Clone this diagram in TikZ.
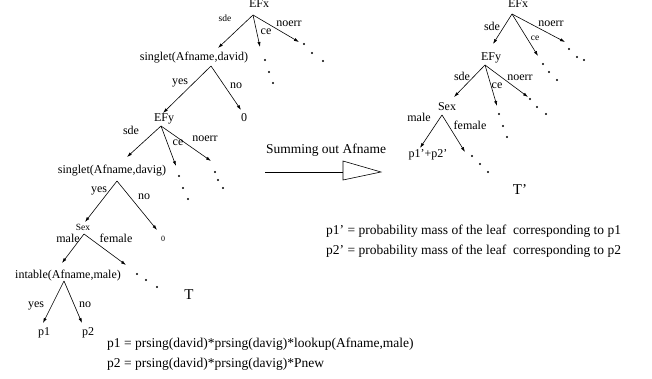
\documentclass[tikz,border=0pt]{standalone}
\usepackage{fontspec}
\setmainfont{Liberation Serif}
\usetikzlibrary{arrows.meta}
\begin{document}
\begin{tikzpicture}[x=1pt,y=-1pt,
  lbl/.style={inner sep=0pt,anchor=base,font=\fontsize{12}{14}\selectfont},
  sml/.style={inner sep=0pt,anchor=base,font=\fontsize{9.5}{11}\selectfont},
  tiny/.style={inner sep=0pt,anchor=base,font=\fontsize{8}{9}\selectfont},
  big/.style={inner sep=0pt,anchor=base,font=\fontsize{15}{17}\selectfont},
  eq/.style={inner sep=0pt,anchor=base west,font=\fontsize{13.5}{16}\selectfont},
  edge/.style={line width=0.6pt,-{Latex[length=5pt,width=3.2pt]}},
  dotn/.style={circle,fill=black,inner sep=0pt,minimum size=2.4pt}]
\useasboundingbox (0,0) rectangle (652,379);

% ---------------- left tree T ----------------
\node[lbl] (lEFx) at (259,8) {EFx};
\coordinate (la1) at (253,15);
\coordinate (la1s) at (218,48);
\coordinate (la1c) at (260,47);
\coordinate (la1n) at (299,42);
\draw[edge] (la1) -- (la1s);
\draw[edge] (la1) -- (la1c);
\draw[edge] (la1) -- (la1n);
\node[sml] (llsde1) at (225,22) {sde};
\node[lbl] (llce1) at (266,35) {ce};
\node[lbl] (llno1) at (289,27) {noerr};
\node[dotn] (ld1) at (265,60) {}; \node[dotn] (ld2) at (269,72) {}; \node[dotn] (ld3) at (273,83) {};
\node[dotn] (ld4) at (304,44) {}; \node[dotn] (ld5) at (312,53) {}; \node[dotn] (ld6) at (323,61) {};

\node[lbl] (ls1) at (194,61) {singlet(Afname,david)};
\coordinate (la2) at (211,66);
\coordinate (la2y) at (163,113);
\coordinate (la2n) at (241,110);
\draw[edge] (la2) -- (la2y);
\draw[edge] (la2) -- (la2n);
\node[lbl] (llyes1) at (180,85) {yes};
\node[lbl] (llno2) at (236,89) {no};

\node[lbl] (lEFy) at (164,122) {EFy};
\node[lbl] (lz1) at (244,122) {0};
\coordinate (la3) at (161,126);
\coordinate (la3s) at (127,157);
\coordinate (la3c) at (176,166);
\coordinate (la3n) at (211,161);
\draw[edge] (la3) -- (la3s);
\draw[edge] (la3) -- (la3c);
\draw[edge] (la3) -- (la3n);
\node[lbl] (llsde2) at (131,135) {sde};
\node[lbl] (llce2) at (178,146) {ce};
\node[lbl] (llno3) at (205,142) {noerr};
\node[dotn] (ld7) at (179,176) {}; \node[dotn] (ld8) at (183,188) {}; \node[dotn] (ld9) at (188,199) {};
\node[dotn] (ld10) at (215,172) {}; \node[dotn] (ld11) at (218,180) {}; \node[dotn] (ld12) at (223,188) {};

\node[lbl] (ls2) at (112,174) {singlet(Afname,davig)};
\coordinate (la4) at (117,181);
\coordinate (la4y) at (85,222);
\coordinate (la4n) at (157,230);
\draw[edge] (la4) -- (la4y);
\draw[edge] (la4) -- (la4n);
\node[lbl] (llyes2) at (99,193) {yes};
\node[lbl] (llno4) at (144,200) {no};

\node[sml] (lSex) at (83,230) {Sex};
\node[tiny] (lz2) at (163,241) {0};
\coordinate (la5) at (84,234);
\coordinate (la5m) at (62,263);
\coordinate (la5f) at (126,265);
\draw[edge] (la5) -- (la5m);
\draw[edge] (la5) -- (la5f);
\node[lbl] (llmale) at (68,242) {male};
\node[lbl] (llfem) at (116,242) {female};
\node[dotn] (ld13) at (137,274) {}; \node[dotn] (ld14) at (146,280) {}; \node[dotn] (ld15) at (157,287) {};

\node[lbl] (lint) at (68,278) {intable(Afname,male)};
\coordinate (la6) at (64,281);
\coordinate (la6y) at (43,323);
\coordinate (la6n) at (82,323);
\draw[edge] (la6) -- (la6y);
\draw[edge] (la6) -- (la6n);
\node[lbl] (llyes3) at (36,307) {yes};
\node[lbl] (llno5) at (85,307) {no};
\node[lbl] (lp1) at (44,335) {p1};
\node[lbl] (lp2) at (88,335) {p2};

\node[big] (lT) at (189,299) {T};
\node[eq] (eq1) at (107,347.5) {p1 = prsing(david)*prsing(davig)*lookup(Afname,male)};
\node[eq] (eq2) at (107,367.5) {p2 = prsing(david)*prsing(davig)*Pnew};

% ---------------- transformation arrow ----------------
\node[inner sep=0pt,anchor=base,font=\fontsize{13.5}{16}\selectfont] (sum) at (326,153.5) {Summing out Afname};
\coordinate (sa) at (265,172);
\coordinate (sb) at (343,172);
\coordinate (st) at (343,161);
\coordinate (sbt) at (343,180);
\coordinate (sp) at (381,172);
\draw[line width=0.6pt] (sa) -- (sb);
\draw[line width=0.6pt,line join=miter] (st) -- (sp) -- (sbt) -- cycle;

% ---------------- right tree T' ----------------
\node[lbl] (rEFx) at (518,8) {EFx};
\coordinate (ra1) at (512,14);
\coordinate (ra1s) at (493,44);
\coordinate (ra1c) at (538,56);
\coordinate (ra1n) at (565,42);
\draw[edge] (ra1) -- (ra1s);
\draw[edge] (ra1) -- (ra1c);
\draw[edge] (ra1) -- (ra1n);
\node[lbl] (rlsde1) at (492,31) {sde};
\node[sml] (rlce1) at (535,41) {ce};
\node[lbl] (rlno1) at (551,27) {noerr};
\node[dotn] (rd1) at (543,64) {}; \node[dotn] (rd2) at (549,72) {}; \node[dotn] (rd3) at (557,80) {};
\node[dotn] (rd4) at (569,49) {}; \node[dotn] (rd5) at (577,57) {}; \node[dotn] (rd6) at (584,60) {};

\node[lbl] (rEFy) at (491,61) {EFy};
\coordinate (ra2) at (485,65);
\coordinate (ra2s) at (454,97);
\coordinate (ra2c) at (497,106);
\coordinate (ra2n) at (528,97);
\draw[edge] (ra2) -- (ra2s);
\draw[edge] (ra2) -- (ra2c);
\draw[edge] (ra2) -- (ra2n);
\node[lbl] (rlsde2) at (462,81) {sde};
\node[lbl] (rlce2) at (497,89) {ce};
\node[lbl] (rlno2) at (520,81) {noerr};
\node[dotn] (rd7) at (499,114) {}; \node[dotn] (rd8) at (503,126) {}; \node[dotn] (rd9) at (507,137) {};
\node[dotn] (rd10) at (530,99) {}; \node[dotn] (rd11) at (537,107) {}; \node[dotn] (rd12) at (546,114) {};

\node[lbl] (rSex) at (447,111) {Sex};
\coordinate (ra3) at (442,115);
\coordinate (ra3m) at (420,148);
\coordinate (ra3f) at (465,152);
\draw[edge] (ra3) -- (ra3m);
\draw[edge] (ra3) -- (ra3f);
\node[lbl] (rlmale) at (419,122) {male};
\node[lbl] (rlfem) at (470,130) {female};
\node[lbl] (rp) at (428,158) {p1'+p2'};
\node[dotn] (rd13) at (472,156) {}; \node[dotn] (rd14) at (480,164) {}; \node[dotn] (rd15) at (488,172) {};

\node[big] (rT) at (520,195) {T'};
\node[eq] (eq3) at (326,234.5) {p1' = probability mass of the leaf\ \ corresponding to p1};
\node[eq] (eq4) at (326,254.5) {p2' = probability mass of the leaf\ \ corresponding to p2};
\end{tikzpicture}
\end{document}
